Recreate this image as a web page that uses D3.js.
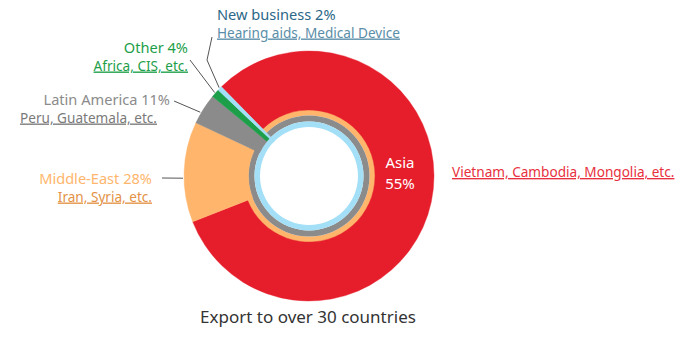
<!DOCTYPE html>
<html>
<head>
<meta charset="utf-8">
<script src="https://cdn.jsdelivr.net/npm/d3@7"></script>
<style>
  body { margin: 0; background: #fff; }
  text { font-family: "Noto Sans", sans-serif; }
</style>
</head>
<body>
<div id="chart"></div>
<script>
// data
const regions = ["Asia", "Middle-East", "Latin America", "Other", "New business"];
const shares = [55, 28, 11, 4, 2];
// angle each slice takes in the drawing (degrees)
const sweeps = [293, 46.7, 14.3, 3.9, 2.1];
const examples = ["Vietnam, Cambodia, Mongolia, etc.", "Iran, Syria, etc.", "Peru, Guatemala, etc.", "Africa, CIS, etc.", "Hearing aids, Medical Device"];
const caption = "Export to over 30 countries";

const width = 690, height = 341;
const cx = 309, cy = 176, outerR = 125;

const colors = ["#e61e2c", "#ffb66c", "#8b8b8b", "#1d9e49", "#a3dff6"];
const innerRadii = [66, 60.5, 54.5, 54.5, 49];
const titleColors = ["#e83040", "#ffb66c", "#8b8b8b", "#1d9e49", "#2b6888"];
const noteColors = ["#e83040", "#e39246", "#7a7a7a", "#1d9e49", "#5a8ea8"];

// label layout: where the text sits and where its leader line meets the ring
const labelLayout = [
  { x: 452, y: 177, anchor: "start" },
  { x: 152, y: 184, anchor: "end", line: [[162, 178]], hit: 269 },
  { x: 170, y: 105, anchor: "end", noteX: 157, line: [[174, 101]], hit: 300.4 },
  { x: 188, y: 53, anchor: "end", line: [[190, 60]], hit: 311.5 },
  { x: 217, y: 20, anchor: "start", line: [[212, 37], [207, 60]], hit: 314.5 }
];

const rad = d => d * Math.PI / 180;

const svg = d3.select("#chart").append("svg")
  .attr("width", width)
  .attr("height", height)
  .attr("viewBox", [0, 0, width, height].toString());

const g = svg.append("g").attr("transform", `translate(${cx},${cy})`);

// inner rings (orange, gray, blue from outside in)
const rings = [
  { color: colors[1], r0: 60.5, r1: 66.5 },
  { color: colors[2], r0: 54.5, r1: 60.5 },
  { color: colors[4], r0: 49, r1: 54.5 }
];
g.selectAll("path.ring")
  .data(rings)
  .join("path")
  .attr("class", "ring")
  .attr("fill", d => d.color)
  .attr("d", d => d3.arc()({ innerRadius: d.r0, outerRadius: d.r1, startAngle: 0, endAngle: 2 * Math.PI }));

const start = rad(315.5);
const pie = d3.pie()
  .sort(null)
  .value((d, i) => sweeps[i])
  .startAngle(start)
  .endAngle(start + 2 * Math.PI);

const arcs = pie(regions);

g.selectAll("path.slice")
  .data(arcs)
  .join("path")
  .attr("class", "slice")
  .attr("fill", (d, i) => colors[i])
  .attr("stroke", (d, i) => colors[i])
  .attr("stroke-width", 0.4)
  .attr("d", (d, i) => d3.arc().innerRadius(innerRadii[i]).outerRadius(outerR)(d));

// leader lines
labelLayout.forEach(l => {
  if (!l.line) return;
  const end = d3.pointRadial(rad(l.hit), outerR + 1);
  const pts = l.line.concat([[cx + end[0], cy + end[1]]]);
  svg.append("path")
    .attr("d", d3.line()(pts))
    .attr("fill", "none")
    .attr("stroke", "#555")
    .attr("stroke-width", 1);
});

// labels
regions.forEach((name, i) => {
  const l = labelLayout[i];
  if (i > 0) {
    svg.append("text")
      .attr("x", l.x).attr("y", l.y)
      .attr("text-anchor", l.anchor)
      .attr("fill", titleColors[i])
      .style("font-size", "14.6px")
      .text(`${name} ${shares[i]}%`);
  }
  svg.append("text")
    .attr("x", l.noteX || l.x).attr("y", l.y + (i > 0 ? 17.5 : 0))
    .attr("text-anchor", l.anchor)
    .attr("fill", noteColors[i])
    .style("font-size", "13.6px")
    .style("text-decoration", "underline")
    .text(examples[i]);
});

// Asia label inside the red slice
const inside = svg.append("text")
  .attr("text-anchor", "middle")
  .attr("fill", "#fff")
  .style("font-size", "15px");
inside.append("tspan").attr("x", 400).attr("y", 168).text(regions[0]);
inside.append("tspan").attr("x", 400).attr("y", 189).text(`${shares[0]}%`);

svg.append("text")
  .attr("x", 308).attr("y", 323)
  .attr("text-anchor", "middle")
  .attr("fill", "#333")
  .style("font-size", "17px")
  .text(caption);
</script>
</body>
</html>
